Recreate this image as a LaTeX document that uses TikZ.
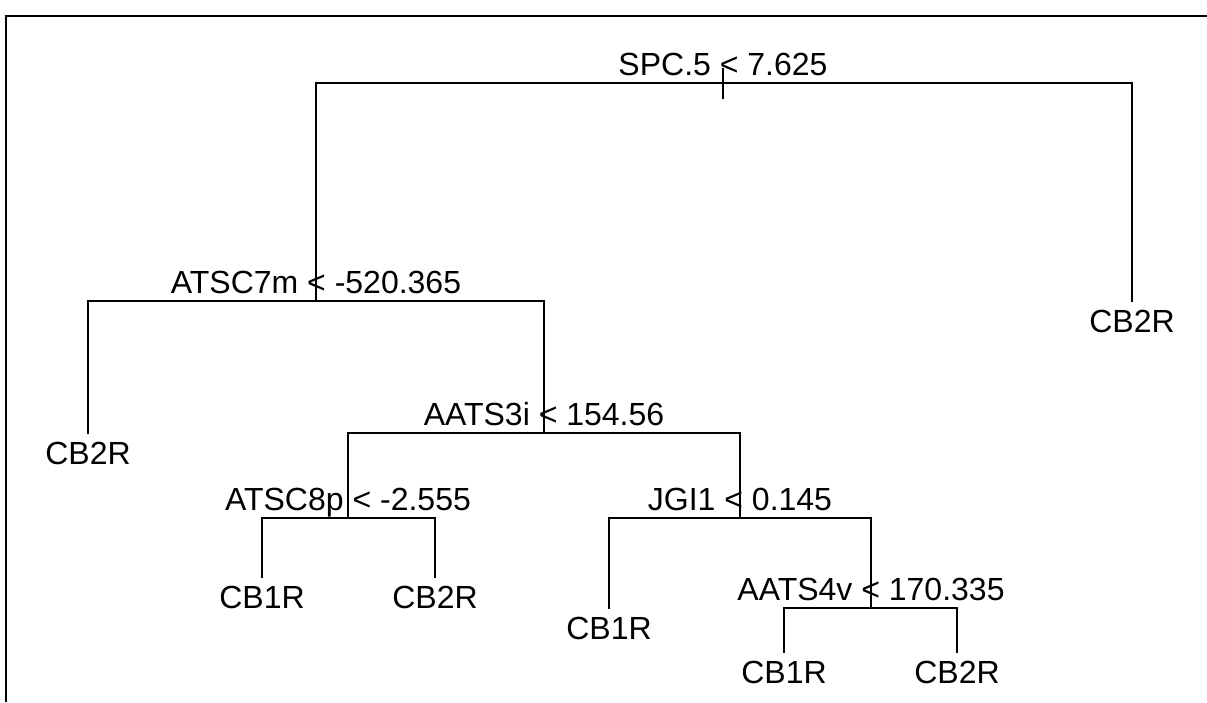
\documentclass[tikz,border=0pt]{standalone}
\usepackage{fontspec}
\setmainfont{Liberation Sans}
\begin{document}
\begin{tikzpicture}[x=1pt,y=-1pt,
  edge/.style={line width=2.2pt,line cap=rect},
  lbl/.style={anchor=base,inner sep=0pt,font=\fontsize{32}{38}\selectfont}]
\useasboundingbox (0,0) rectangle (1207,702);
% frame
\draw[line width=2.4pt] (1207,16) -- (6,16) -- (6,702);
% split points
\coordinate (A) at (723,83);
\coordinate (B) at (316,301);
\coordinate (C) at (544,433);
\coordinate (D) at (348,518);
\coordinate (E) at (740,518);
\coordinate (F) at (871,608);
% leaf ends
\coordinate (L1) at (1132,301);
\coordinate (L2) at (88,433);
\coordinate (L3) at (262,577);
\coordinate (L4) at (435,577);
\coordinate (L5) at (609,608);
\coordinate (L6) at (784,652);
\coordinate (L7) at (957,652);
\coordinate (Atop) at (723,69);
\coordinate (Abot) at (723,98);
% edges
\draw[edge] (Atop) -- (Abot);
\draw[edge] (B) |- (A) -| (L1);
\draw[edge] (L2) |- (B) -| (C);
\draw[edge] (D) |- (C) -| (E);
\draw[edge] (L3) |- (D) -| (L4);
\draw[edge] (L5) |- (E) -| (F);
\draw[edge] (L6) |- (F) -| (L7);
% split labels
\node[lbl] (tA) at ([yshift=7.5]A) {SPC.5 < 7.625};
\node[lbl] (tB) at ([yshift=7.5]B) {ATSC7m < -520.365};
\node[lbl] (tC) at ([yshift=7.5]C) {AATS3i < 154.56};
\node[lbl] (tD) at ([yshift=7.5]D) {ATSC8p < -2.555};
\node[lbl] (tE) at ([yshift=7.5]E) {JGI1 < 0.145};
\node[lbl] (tF) at ([yshift=7.5]F) {AATS4v < 170.335};
% leaf labels
\node[lbl] (t1) at ([yshift=-31]L1) {CB2R};
\node[lbl] (t2) at ([yshift=-31]L2) {CB2R};
\node[lbl] (t3) at ([yshift=-31]L3) {CB1R};
\node[lbl] (t4) at ([yshift=-31]L4) {CB2R};
\node[lbl] (t5) at ([yshift=-31]L5) {CB1R};
\node[lbl] (t6) at ([yshift=-31]L6) {CB1R};
\node[lbl] (t7) at ([yshift=-31]L7) {CB2R};
\end{tikzpicture}
\end{document}
